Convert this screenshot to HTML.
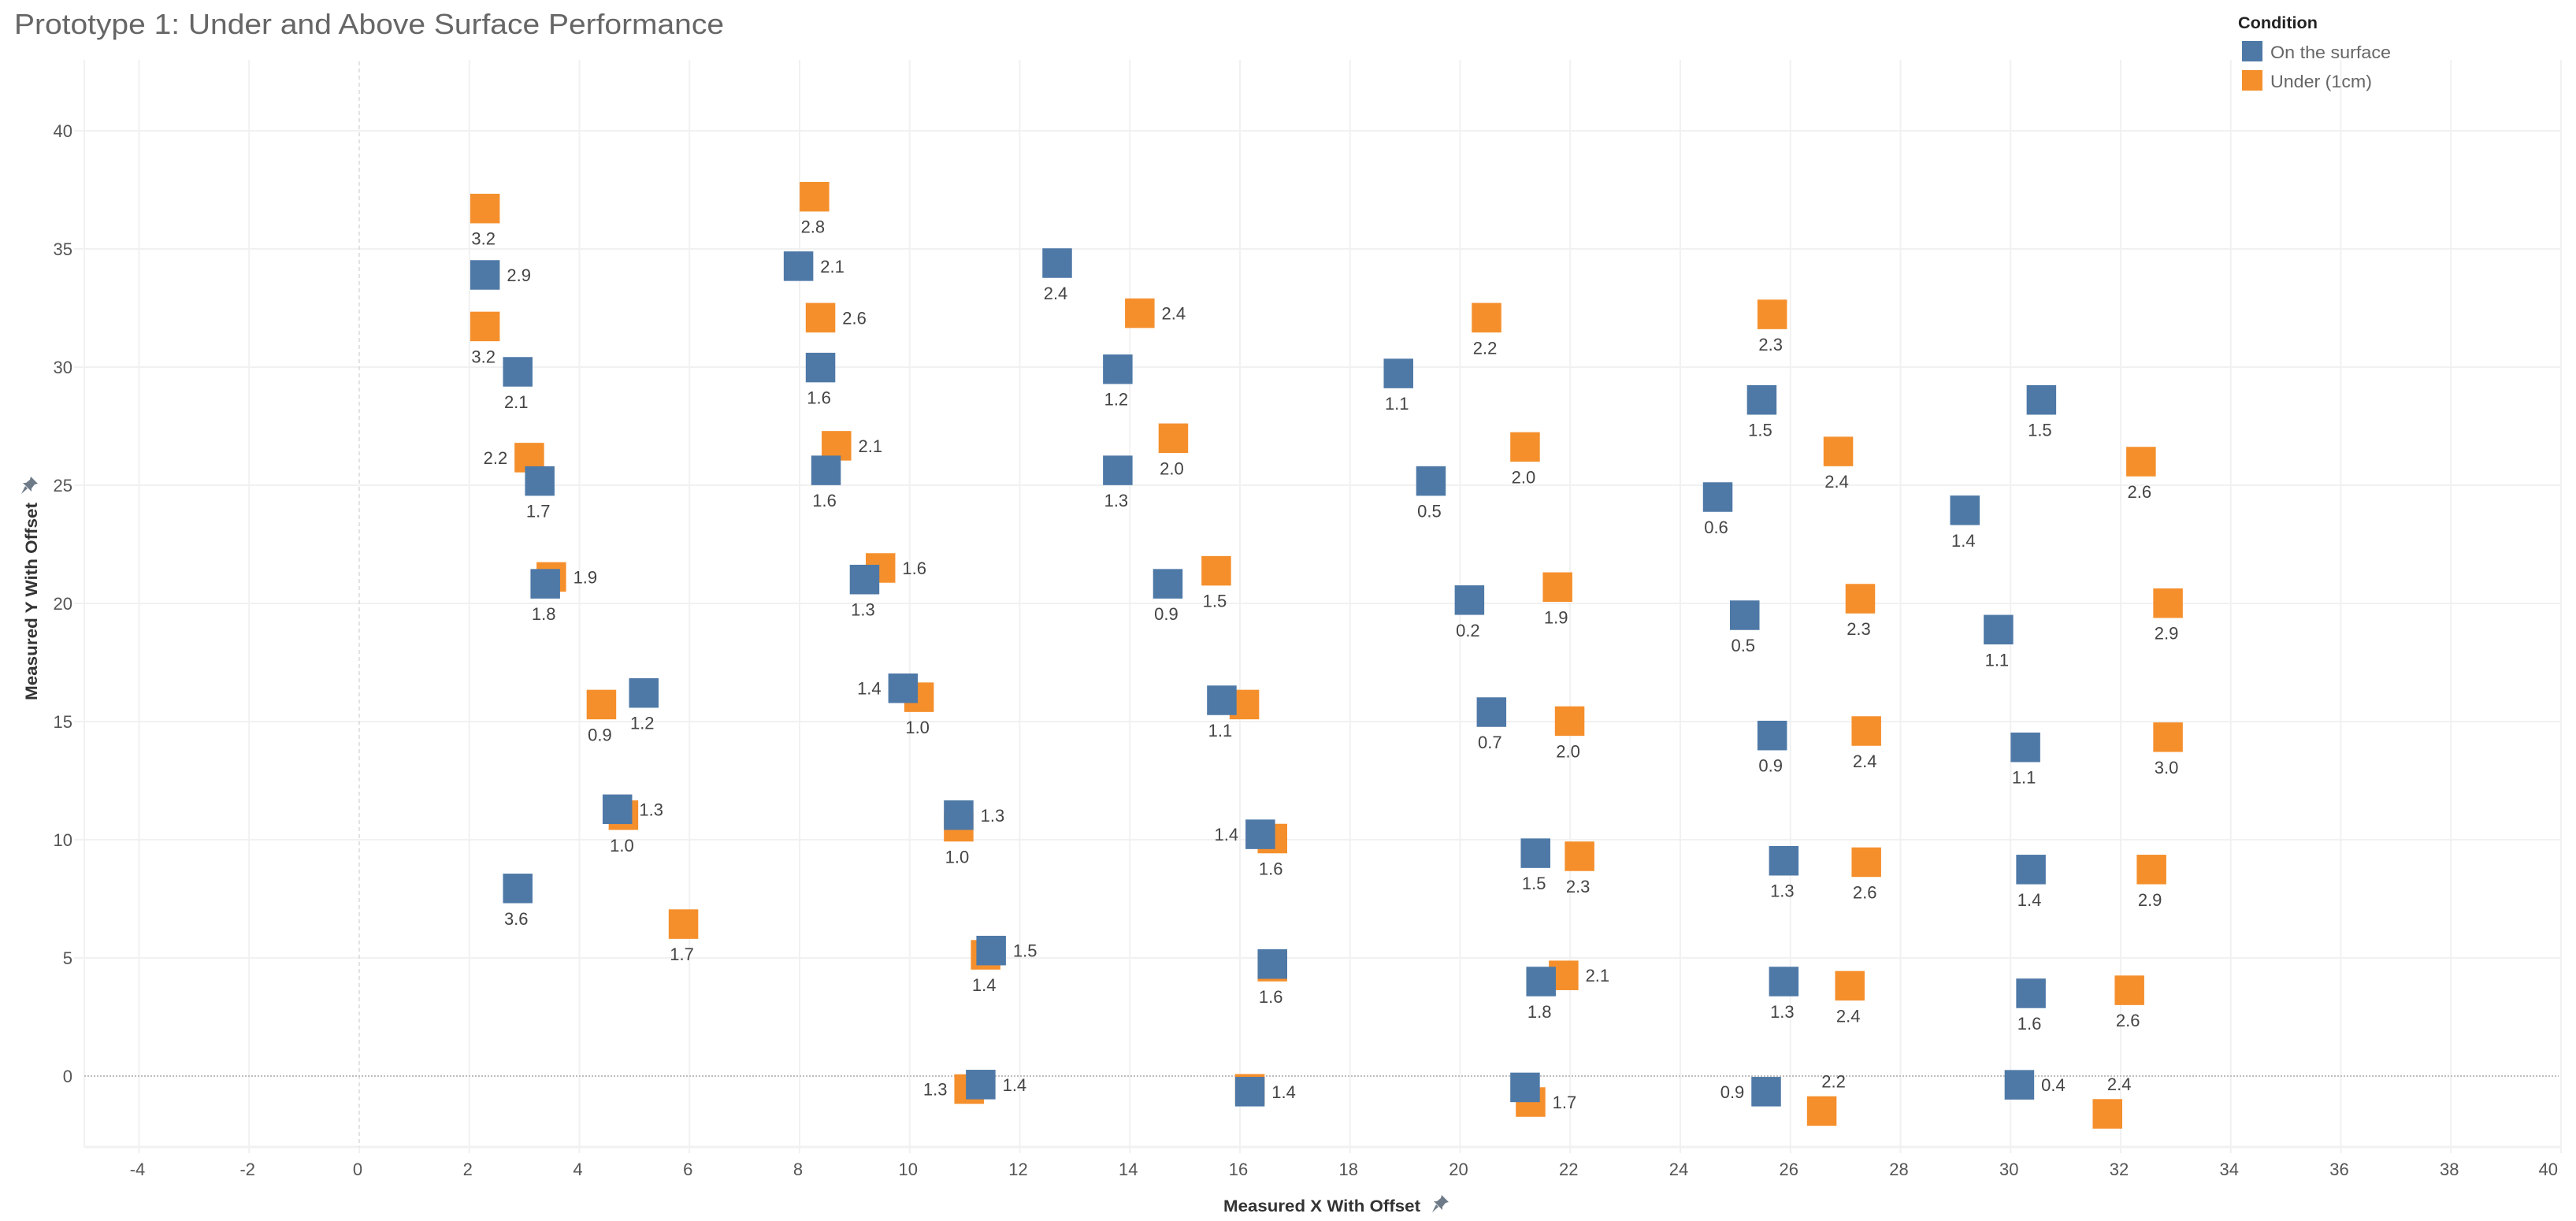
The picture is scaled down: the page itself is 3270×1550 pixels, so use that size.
<!DOCTYPE html>
<html lang="en">
<head>
<meta charset="utf-8">
<title>Prototype 1: Under and Above Surface Performance</title>
<style>
html,body{margin:0;padding:0;background:#fff;}
#chart{display:block;width:3270px;height:1550px;font-family:"Liberation Sans",sans-serif;}
</style>
</head>
<body>
<svg id="chart" xmlns="http://www.w3.org/2000/svg" width="3270" height="1550" viewBox="0 0 3270 1550">
  <rect x="0" y="0" width="3270" height="1550" fill="#ffffff"/>
  <g id="grid"></g>
  <g id="ticks"></g>
  <g id="marks-orange"></g>
  <g id="marks-blue"></g>
  <g id="labels"></g>

  <text x="18" y="43" font-size="36" fill="#666666" textLength="901" lengthAdjust="spacingAndGlyphs">Prototype 1: Under and Above Surface Performance</text>

  <text x="1553" y="1538" font-size="21" font-weight="bold" fill="#333333" textLength="250" lengthAdjust="spacingAndGlyphs">Measured X With Offset</text>
  <polygon transform="translate(1817,1517)" points="13,0 22,9 18,10 14,15 14,19 3,8 7,8 12,4" fill="#6e7a87"/>
  <polygon transform="translate(1817,1517)" points="6,12 9,15 1,22" fill="#6e7a87"/>

  <text transform="translate(47,889) rotate(-90)" x="0" y="0" font-size="21" font-weight="bold" fill="#333333" textLength="251" lengthAdjust="spacingAndGlyphs">Measured Y With Offset</text>
  <polygon transform="translate(26,605)" points="13,0 22,9 18,10 14,15 14,19 3,8 7,8 12,4" fill="#6e7a87"/>
  <polygon transform="translate(26,605)" points="6,12 9,15 1,22" fill="#6e7a87"/>

  <g>
    <text x="2841" y="36" font-size="21" font-weight="bold" fill="#222222" textLength="101" lengthAdjust="spacingAndGlyphs">Condition</text>
    <rect x="2846" y="52" width="26" height="26" fill="#4e79a7"/>
    <text x="2882" y="74" font-size="22" fill="#666666" textLength="153" lengthAdjust="spacingAndGlyphs">On the surface</text>
    <rect x="2846" y="89" width="26" height="26" fill="#f58f2c"/>
    <text x="2882" y="111" font-size="22" fill="#666666" textLength="129" lengthAdjust="spacingAndGlyphs">Under (1cm)</text>
  </g>
</svg>

<script>
// Axis tick labels
const xTicks = [-4,-2,0,2,4,6,8,10,12,14,16,18,20,22,24,26,28,30,32,34,36,38,40];
const yTicks = [0,5,10,15,20,25,30,35,40];

// Series: On the surface
const blueX = [2.285,7.98,12.68,2.88,8.38,13.78,18.88,25.48,30.56,3.28,8.48,13.78,19.47,24.68,29.17,3.38,9.18,14.69,20.17,25.17,29.78,5.17,9.88,15.67,20.57,25.67,30.27,4.69,10.89,16.37,21.37,25.88,30.37,2.88,11.48,16.59,21.47,25.88,30.37,11.29,16.18,21.18,25.56,30.16];
const blueY = [33.90,34.27,34.40,29.80,29.98,29.91,29.73,28.61,28.61,25.18,25.63,25.63,25.18,24.50,23.94,20.83,21.01,20.83,20.14,19.50,18.89,16.21,16.41,15.90,15.40,14.41,13.91,11.29,11.04,10.23,9.43,9.11,8.74,7.94,5.31,4.74,4.00,4.00,3.50,-0.36,-0.66,-0.48,-0.66,-0.37];
const blueValues = ["2.9","2.1","2.4","2.1","1.6","1.2","1.1","1.5","1.5","1.7","1.6","1.3","0.5","0.6","1.4","1.8","1.3","0.9","0.2","0.5","1.1","1.2","1.4","1.1","0.7","0.9","1.1","1.3","1.3","1.4","1.5","1.3","1.4","3.6","1.5","","1.8","1.3","1.6","1.4","1.4","","0.9","0.4"];
const blueSides = ["right","right","below","below","below","below","below","below","below","below","below","below","below","below","below","below","below","below","below","below","below","below","left","below","below","below","below","right","right","left","below","below","below","below","right","","below","below","below","right","right","","left","right"];

// Series: Under (1cm)
const orangeX = [2.285,8.27,2.285,8.38,14.18,20.48,25.67,3.09,8.67,14.79,21.18,26.87,32.37,3.49,9.47,15.57,21.77,27.27,32.86,4.40,10.17,16.08,21.99,27.38,32.86,4.80,10.89,16.59,22.17,27.38,32.56,5.89,11.38,16.59,21.88,27.08,32.16,11.08,16.18,21.28,26.57,31.76];
const orangeY = [36.71,37.21,31.72,32.09,32.28,32.09,32.23,26.17,26.67,26.99,26.62,26.43,26.00,21.12,21.50,21.38,20.69,20.20,20.01,15.72,16.03,15.72,15.02,14.60,14.34,11.04,10.55,10.05,9.30,9.05,8.74,6.43,5.13,4.63,4.26,3.82,3.63,-0.55,-0.54,-1.10,-1.48,-1.60];
const orangeValues = ["3.2","2.8","3.2","2.6","2.4","2.2","2.3","2.2","2.1","2.0","2.0","2.4","2.6","1.9","1.6","1.5","1.9","2.3","2.9","0.9","1.0","","2.0","2.4","3.0","1.0","1.0","1.6","2.3","2.6","2.9","1.7","1.4","1.6","2.1","2.4","2.6","1.3","","1.7","2.2","2.4"];
const orangeSides = ["below","below","below","right","right","below","below","left","right","below","below","below","below","right","right","below","below","below","below","below","below","","below","below","below","below","below","below","below","below","below","below","below","below","right","below","below","left","","right","above","above"];

const NS = 'http://www.w3.org/2000/svg';
const plot = {left:107, right:3251, top:76, bottom:1456};
const xOrigin = 456, xPerUnit = 69.875;
const yOrigin = 1366, yPerUnit = 30;
const markSize = 37.5;

function xScale(v){ return xOrigin + v * xPerUnit; }
function yScale(v){ return yOrigin - v * yPerUnit; }

function make(tag, attrs, parent){
  const el = document.createElementNS(NS, tag);
  for (const k in attrs) el.setAttribute(k, attrs[k]);
  parent.appendChild(el);
  return el;
}

const grid = document.getElementById('grid');
const ticks = document.getElementById('ticks');
const labels = document.getElementById('labels');
const gridStyle = {stroke:'#f1f1f1','stroke-width':2};

// Pane borders
const paneLeft = make('line', Object.assign({x1:plot.left,x2:plot.left,y1:plot.top,y2:plot.bottom}, gridStyle), grid);


const xAxisLine = make('line', {x1:plot.left,x2:plot.right,y1:plot.bottom,y2:plot.bottom,stroke:'#f1f1f1','stroke-width':3}, grid);



xTicks.forEach(function(t){
  const px = xScale(t);
  if (t !== 0) {
    const g = make('line', Object.assign({x1:px,x2:px,y1:plot.top,y2:plot.bottom+8}, gridStyle), grid);
    
    
  } else {
    const g = make('line', {x1:px,x2:px,y1:plot.bottom,y2:plot.bottom+8,stroke:'#f1f1f1','stroke-width':2}, grid);
    
    
  }
  const isLast = t === xTicks[xTicks.length - 1];
  const lbl = make('text', {x:isLast ? px-4 : px-2,y:1492,'font-size':22,fill:'#555555','text-anchor':isLast ? 'end' : 'middle'}, ticks);
  
  
  lbl.textContent = String(t);
});

yTicks.forEach(function(t){
  const py = yScale(t);
  if (t !== 0) {
    const g = make('line', Object.assign({x1:94,x2:plot.right,y1:py,y2:py}, gridStyle), grid);
    
    
  }
  const lbl = make('text', {x:92,y:py+8,'font-size':22,fill:'#555555','text-anchor':'end'}, ticks);
  
  
  lbl.textContent = String(t);
});

// Zero reference lines
const zeroV = make('line', {x1:xScale(0),x2:xScale(0),y1:plot.top+2,y2:plot.bottom,stroke:'#d0d0d0','stroke-width':1.2,'stroke-dasharray':'5 4'}, grid);


const zeroH = make('line', {x1:plot.left,x2:plot.right-3,y1:yScale(0),y2:yScale(0),stroke:'#bdbdbd','stroke-width':2,'stroke-dasharray':'2 2'}, grid);



function drawSeries(xs, ys, values, sides, color, groupId, markName){
  const group = document.getElementById(groupId);
  xs.forEach(function(xv, i){
    const cx = xScale(xv), cy = yScale(ys[i]);
    const r = make('rect', {x:cx-markSize/2,y:cy-markSize/2,width:markSize,height:markSize,fill:color}, group);
    
    
    if (!values[i]) return;
    let lx = cx - 2, ly = cy + 46;
    if (sides[i] === 'right') { lx = cx + 43; ly = cy + 8; }
    if (sides[i] === 'left')  { lx = cx - 43; ly = cy + 8; }
    if (sides[i] === 'above') { lx = cx + 15; ly = cy - 30; }
    const t = make('text', {x:lx,y:ly,'font-size':22,fill:'#444444','text-anchor':'middle'}, labels);
    
    
    t.textContent = values[i];
  });
}

drawSeries(orangeX, orangeY, orangeValues, orangeSides, '#f58f2c', 'marks-orange', 'point-under-1cm');
drawSeries(blueX, blueY, blueValues, blueSides, '#4e79a7', 'marks-blue', 'point-on-the-surface');
</script>
</body>
</html>
